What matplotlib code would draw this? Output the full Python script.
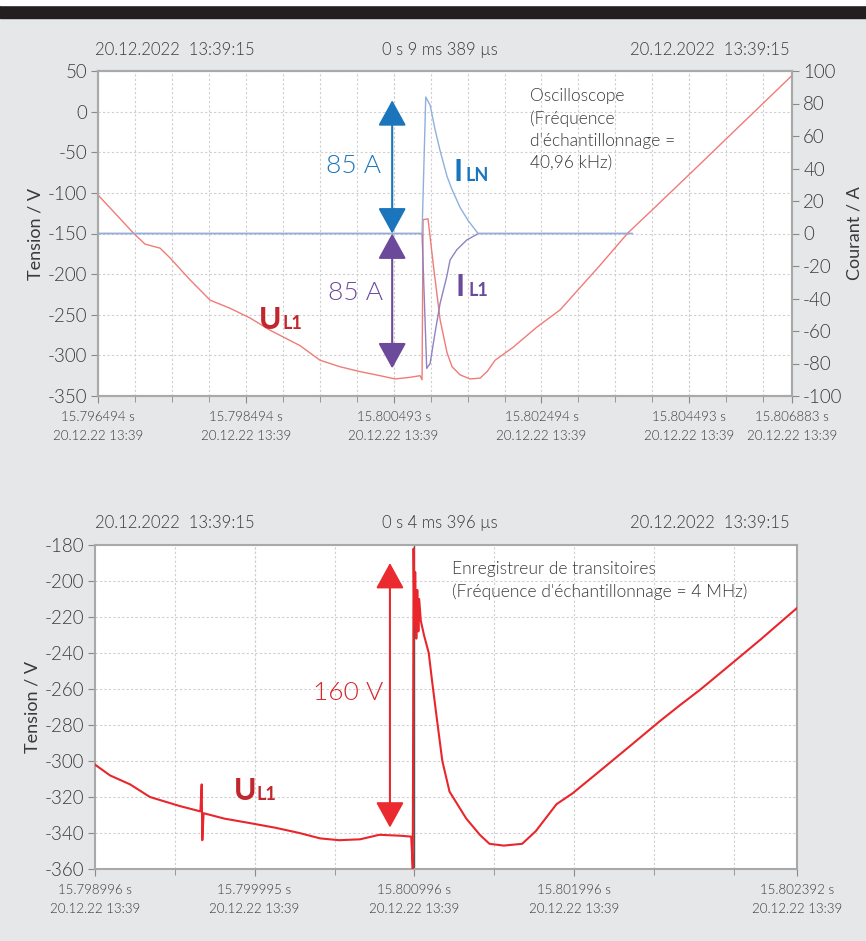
import matplotlib
matplotlib.use('Agg')
import matplotlib.pyplot as plt
from matplotlib.patches import Rectangle

plt.rcParams['font.family'] = ['Lato', 'DejaVu Sans']
plt.rcParams['font.weight'] = 300
plt.rcParams['axes.unicode_minus'] = False

W, H = 866, 941

# --- top chart (oscilloscope), time in ms from window start ---
u_top_t = [0, 0.23, 0.474, 0.636, 0.731, 0.839, 0.974, 1.245, 1.516, 1.786, 2.057, 2.327,
           2.733, 3.004, 3.275, 3.545, 3.816, 4.019, 4.222, 4.357, 4.384, 4.398, 4.465,
           4.533, 4.628, 4.723, 4.79, 4.899, 5.034, 5.169, 5.264, 5.372, 5.616, 5.94,
           6.252, 6.793, 7.172, 7.469, 8.146, 8.687, 9.093, 9.389]
u_top_v = [-102.6, -125, -149, -163, -165.4, -168, -180, -207, -232, -242, -254, -269,
           -288, -306, -314, -320, -325, -329, -327, -325, -330, -133, -132,
           -186, -256, -297, -314, -324, -329, -328, -320, -306, -290, -265,
           -244, -189, -149, -123.5, -64.5, -17, 18.5, 44.5]

i_ln_t = [0, 4.384, 4.434, 4.493, 4.56, 4.628, 4.723, 4.79, 4.899, 5.007, 5.142, 7.226]
i_ln_a = [0, 0, 84, 79, 64, 51, 35, 27, 16, 8, 0, 0]

i_l1_t = [0, 4.384, 4.447, 4.493, 4.56, 4.628, 4.718, 4.763, 4.854, 4.989, 5.146, 7.226]
i_l1_a = [0, 0, -83, -80, -61, -43, -26.6, -16.3, -10, -4, 0, 0]

top_ticks = [0, 2, 3.999, 6, 7.999, 9.389]
top_tick_labels = ['15.796494 s', '15.798494 s', '15.800493 s', '15.802494 s',
                   '15.804493 s', '15.806883 s']

# --- bottom chart (transient recorder) ---
bot_t = [0, 0.094, 0.22, 0.344, 0.53, 0.66, 0.668, 0.672, 0.68, 0.81, 0.97, 1.125,
         1.28, 1.41, 1.53, 1.66, 1.78, 1.91, 1.98, 1.99, 1.995, 2.0, 2.005, 2.012,
         2.018, 2.025, 2.03, 2.04, 2.06, 2.09, 2.11, 2.14, 2.175, 2.22, 2.325, 2.41,
         2.47, 2.56, 2.675, 2.76, 2.89, 2.99, 3.162, 3.35, 3.538, 3.663, 3.788,
         3.976, 4.164, 4.396]
bot_v = [-302, -308, -313, -320, -325, -328, -313, -344, -329, -332, -334.5, -337,
         -340, -343, -344, -343.5, -341, -341.5, -342, -360, -182, -225, -195, -232,
         -205, -228, -210, -222, -230, -240, -255, -276, -300, -317, -332, -341,
         -346, -347, -346, -339, -324, -318, -305.5, -291.7, -277.8, -269, -260.5,
         -246.7, -232.8, -215]

bot_ticks = [0, 0.999, 2.0, 3.0, 4.396]
bot_tick_labels = ['15.798996 s', '15.799995 s', '15.800996 s', '15.801996 s', '15.802392 s']
date_label = '20.12.22 13:39'

bg = '#e6e7e8'
txt = '#3a3a3a'
grid_c = '#cfcfcf'
spine_c = '#a9a9a9'


def style_axes(ax):
    ax.set_facecolor('white')
    for s in ax.spines.values():
        s.set_color(spine_c)
        s.set_linewidth(1.5)
    ax.tick_params(which='both', colors='#8a8a8a', labelcolor=txt, direction='out')
    ax.tick_params(which='major', length=5)
    ax.tick_params(which='minor', length=4)
    ax.grid(True, which='both', color=grid_c, linestyle=(0, (2, 2)), linewidth=0.8)
    ax.set_axisbelow(True)


fig = plt.figure(figsize=(W / 100, H / 100), dpi=100, facecolor=bg)
fig.patches.append(Rectangle((0, 1 - 18 / H), 1, 13 / H, transform=fig.transFigure,
                             color='#231f20', zorder=0))
fig.patches.append(Rectangle((0, 1 - 5 / H), 1, 5 / H, transform=fig.transFigure,
                             color='white', zorder=0))

# ---------------- top chart ----------------
ax = fig.add_axes([98 / W, 1 - 396 / H, 694 / W, 325 / H])
style_axes(ax)
ax.set_xlim(0, 9.389)
ax.set_ylim(-350, 50)
ax.set_yticks(range(-350, 51, 50))
ax.set_xticks(top_ticks)
ax.set_xticks([x * 0.5 for x in range(19)], minor=True)
ax.set_xticklabels([l + '\n' + date_label for l in top_tick_labels], fontsize=9.5,
                   linespacing=1.7)
ax.tick_params(axis='x', which='major', pad=6)
ax.tick_params(axis='y', labelsize=13.5, pad=3)
ax.set_ylabel('Tension / V', fontsize=13, color=txt, labelpad=3)
ax.plot(u_top_t, u_top_v, color='#f07b78', lw=1.0, zorder=3)

ax2 = ax.twinx()
ax2.set_ylim(-100, 100)
ax2.set_yticks(range(-100, 101, 20))
for s in ax2.spines.values():
    s.set_color(spine_c)
    s.set_linewidth(1.5)
ax2.tick_params(colors='#8a8a8a', labelcolor=txt, labelsize=13.5, length=5, pad=3)
ax2.set_ylabel('Courant / A', fontsize=13, color=txt, labelpad=3)
ax2.plot(i_l1_t, i_l1_a, color='#8c84c2', lw=1.0)
ax2.plot(i_ln_t, i_ln_a, color='#8fb0dc', lw=1.0)

arrow_x = 3.98
ax2.annotate('', xy=(arrow_x, 82), xytext=(arrow_x, 0),
             arrowprops=dict(arrowstyle='<|-|>,head_length=1.0,head_width=0.55',
                             mutation_scale=16, color='#1b75bc', lw=1.5,
                             shrinkA=0, shrinkB=0))
ax2.annotate('', xy=(arrow_x, -83), xytext=(arrow_x, 0),
             arrowprops=dict(arrowstyle='<|-|>,head_length=1.0,head_width=0.55',
                             mutation_scale=16, color='#6b4a9c', lw=1.5,
                             shrinkA=0, shrinkB=0))

fig.text(353 / W, 1 - 166 / H, '85 A', fontsize=19, color='#1b75bc', ha='center', va='center')
fig.text(356 / W, 1 - 293 / H, '85 A', fontsize=19, color='#6b4a9c', ha='center', va='center')

fig.text(453 / W, 1 - 181 / H, 'I', fontsize=22, fontweight='bold', color='#1b75bc', va='baseline')
fig.text(466 / W, 1 - 181 / H, 'LN', fontsize=13, fontweight='bold', color='#1b75bc', va='baseline')
fig.text(455 / W, 1 - 296 / H, 'I', fontsize=22, fontweight='bold', color='#6b4a9c', va='baseline')
fig.text(468 / W, 1 - 296 / H, 'L1', fontsize=13, fontweight='bold', color='#6b4a9c', va='baseline')
fig.text(259 / W, 1 - 329 / H, 'U', fontsize=22, fontweight='bold', color='#c1272d', va='baseline')
fig.text(282 / W, 1 - 329 / H, 'L1', fontsize=13, fontweight='bold', color='#c1272d', va='baseline')

fig.text(530 / W, 1 - 88 / H, 'Oscilloscope\n(Fréquence\nd\'échantillonnage =\n40,96 kHz)',
         fontsize=12.5, color=txt, va='top', linespacing=1.45)

fig.text(95 / W, 1 - 50 / H, '20.12.2022  13:39:15', fontsize=12, color=txt, va='center')
fig.text(440 / W, 1 - 50 / H, '0 s 9 ms 389 µs', fontsize=12, color=txt, va='center', ha='center')
fig.text(790 / W, 1 - 50 / H, '20.12.2022  13:39:15', fontsize=12, color=txt, va='center', ha='right')

# ---------------- bottom chart ----------------
bx = fig.add_axes([95 / W, 1 - 869 / H, 702 / W, 324 / H])
style_axes(bx)
bx.set_xlim(0, 4.396)
bx.set_ylim(-360, -180)
bx.set_yticks(range(-360, -179, 20))
bx.set_xticks(bot_ticks)
bx.set_xticks([x * 0.5 for x in range(9)], minor=True)
bx.set_xticklabels([l + '\n' + date_label for l in bot_tick_labels], fontsize=9.5,
                   linespacing=1.7)
bx.tick_params(axis='x', which='major', pad=6)
bx.tick_params(axis='y', labelsize=13.5, pad=3)
bx.set_ylabel('Tension / V', fontsize=13, color=txt, labelpad=3)
bx.axvline(2.0, color='#555555', lw=1.0, zorder=2)
bx.plot(bot_t, bot_v, color='#e8262b', lw=1.5, zorder=3)

bx.annotate('', xy=(1.847, -190), xytext=(1.847, -337),
            arrowprops=dict(arrowstyle='<|-|>,head_length=1.0,head_width=0.55',
                            mutation_scale=16, color='#ea2a2e', lw=1.5,
                            shrinkA=0, shrinkB=0))
fig.text(348 / W, 1 - 693 / H, '160 V', fontsize=19, color='#d7262b', ha='center', va='center')
fig.text(234 / W, 1 - 800 / H, 'U', fontsize=22, fontweight='bold', color='#c1272d', va='baseline')
fig.text(257 / W, 1 - 800 / H, 'L1', fontsize=13, fontweight='bold', color='#c1272d', va='baseline')

fig.text(452 / W, 1 - 561 / H, 'Enregistreur de transitoires\n(Fréquence d\'échantillonnage = 4 MHz)',
         fontsize=12.5, color=txt, va='top', linespacing=1.45)

fig.text(95 / W, 1 - 523 / H, '20.12.2022  13:39:15', fontsize=12, color=txt, va='center')
fig.text(440 / W, 1 - 523 / H, '0 s 4 ms 396 µs', fontsize=12, color=txt, va='center', ha='center')
fig.text(790 / W, 1 - 523 / H, '20.12.2022  13:39:15', fontsize=12, color=txt, va='center', ha='right')

fig.savefig('out.png', dpi=100, facecolor=bg)
